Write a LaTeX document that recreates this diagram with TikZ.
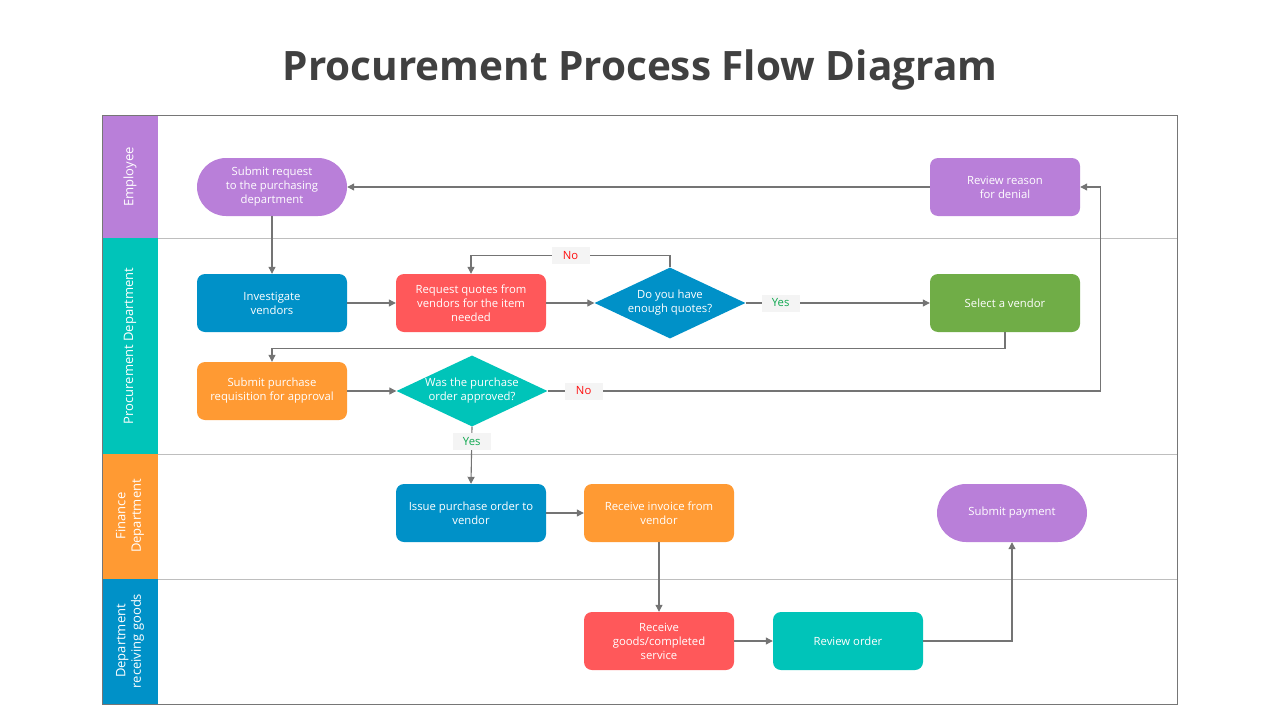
\documentclass[tikz,border=0pt]{standalone}
\usepackage{fontspec}
\setmainfont{Open Sans}
\usetikzlibrary{shapes.geometric, arrows.meta, positioning}
\definecolor{lanepurple}{HTML}{B97FD9}
\definecolor{laneteal}{HTML}{00C4B9}
\definecolor{laneorange}{HTML}{FF9A33}
\definecolor{laneblue}{HTML}{0091C8}
\definecolor{boxred}{HTML}{FF585A}
\definecolor{boxgreen}{HTML}{70AD47}
\definecolor{linegray}{HTML}{747474}
\definecolor{lanegray}{HTML}{BEBEBE}
\definecolor{framegray}{HTML}{767676}
\definecolor{titlegray}{HTML}{404040}
\definecolor{tagbg}{HTML}{F4F4F4}
\definecolor{nored}{HTML}{FF1010}
\definecolor{yesgreen}{HTML}{10A850}

\begin{document}
\begin{tikzpicture}[x=1pt, y=-1pt,
        proc/.style={rectangle, rounded corners=8pt, minimum width=150pt, minimum height=58pt, inner sep=2pt, align=center, text=white, font=\fontsize{11.3}{14}\selectfont},
        term/.style={proc, rounded corners=29pt},
        decision/.style={diamond, minimum width=151pt, minimum height=71pt, inner sep=0pt},
        lane/.style={rotate=90, align=center, text=white, font=\fontsize{13}{15.5}\selectfont},
        flow/.style={draw=linegray, line width=1.1pt, -{Triangle[length=7pt, width=7pt]}},
        tag/.style={fill=tagbg, minimum width=38pt, minimum height=17pt, inner sep=1pt, font=\fontsize{11.3}{13}\selectfont}
    ]
        \useasboundingbox (0,0) rectangle (1280,720);

        \node[font=\bfseries\fontsize{40.5}{46}\selectfont, text=titlegray] (title) at (640,70) {Procurement Process Flow Diagram};

        % swimlanes
        \fill[lanepurple] (102,115) rectangle (158,238);
        \fill[laneteal] (102,238) rectangle (158,454);
        \fill[laneorange] (102,454) rectangle (158,579);
        \fill[laneblue] (102,579) rectangle (158,704);
        \draw[lanegray, line width=1pt] (158,238) -- (1177,238);
        \draw[lanegray, line width=1pt] (158,454) -- (1177,454);
        \draw[lanegray, line width=1pt] (158,579) -- (1177,579);
        \draw[framegray, line width=1pt] (102,115) rectangle (1177,704);

        \node[lane] (emp) at (130,177) {Employee};
        \node[lane] (pro) at (130,346) {Procurement Department};
        \node[lane] (fin) at (130,516) {Finance\\Department};
        \node[lane] (dep) at (130,641) {Department\\receiving goods};

        % steps
        \node[term, fill=lanepurple] (sub) at (272,187) {Submit request\\to the purchasing\\department};
        \node[proc, fill=lanepurple] (why) at (1005,187) {Review reason\\for denial};
        \node[proc, fill=laneblue] (inv) at (272,303) {Investigate\\vendors};
        \node[proc, fill=boxred] (quo) at (471,303) {Request quotes from\\vendors for the item\\needed};
        \node[decision, fill=laneblue, label={[proc, minimum width=0pt, minimum height=0pt]center:Do you have\\enough quotes?}] (enough) at (670,303) {};
        \node[proc, fill=boxgreen] (sel) at (1005,303) {Select a vendor};
        \node[proc, fill=laneorange] (req) at (272,391) {Submit purchase\\requisition for approval};
        \node[decision, fill=laneteal, label={[proc, minimum width=0pt, minimum height=0pt]center:Was the purchase\\order approved?}] (appr) at (472,391) {};
        \node[proc, fill=laneblue] (iss) at (471,513) {Issue purchase order to\\vendor};
        \node[proc, fill=laneorange] (bill) at (659,513) {Receive invoice from\\vendor};
        \node[term, fill=lanepurple] (pay) at (1012,513) {Submit payment};
        \node[proc, fill=boxred] (goods) at (659,641) {Receive\\goods/completed\\service};
        \node[proc, fill=laneteal] (chk) at (848,641) {Review order};

        % connectors
        \draw[flow] (sub.south) -- (inv.north);
        \draw[flow] (why.west) -- (sub.east);
        \draw[flow] (inv) -- (quo);
        \draw[flow] (quo) -- (enough);
        \draw[flow] (enough.north) -- ++(0,-12) -| node[tag, text=nored, pos=0.25] {No} (quo.north);
        \draw[flow] (enough) -- node[tag, text=yesgreen, pos=0.19] {Yes} (sel);
        \draw[flow] (sel.south) -- ++(0,16) -| (req.north);
        \draw[flow] (req) -- (appr);
        \draw[flow] (appr.east) -- node[tag, text=nored, pos=0.065] {No} ++(553,0) |- (why.east);
        \draw[flow] (appr.south) -- node[tag, text=yesgreen, pos=0.26] {Yes} (iss.north);
        \draw[flow] (iss) -- (bill);
        \draw[flow] (bill) -- (goods);
        \draw[flow] (goods) -- (chk);
        \draw[flow] (chk.east) -| (pay.south);
    \end{tikzpicture}
\end{document}
